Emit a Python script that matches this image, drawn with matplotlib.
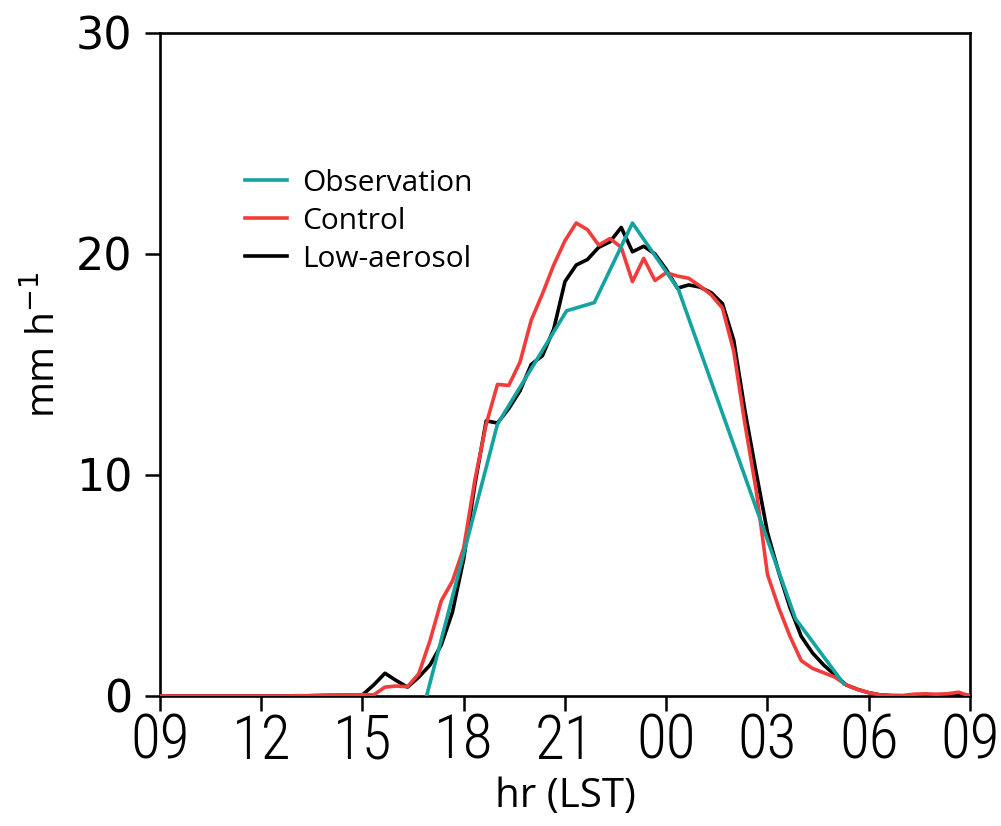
import numpy as np
import matplotlib
matplotlib.use("Agg")
import matplotlib.pyplot as plt

# hours since 09 LST, model output every 20 min
control = [0.0, 0.0, 0.0, 0.0, 0.0, 0.0, 0.0, 0.0, 0.0, 0.0, 0.0, 0.0,
           0.01, 0.01, 0.02, 0.03, 0.04, 0.05,
           0.06, 0.05, 0.4, 0.45, 0.42, 1.0, 2.5, 4.3, 5.2, 6.7, 9.8, 12.3,
           14.1, 14.05, 15.1, 17.0, 18.2, 19.5, 20.6, 21.4, 21.1, 20.4, 20.7, 20.3,
           18.75, 19.8, 18.8, 19.15, 19.0, 18.9, 18.55, 18.15, 17.55, 15.6, 12.3, 9.3,
           5.5, 4.0, 2.7, 1.6, 1.25, 1.05, 0.85, 0.5, 0.3, 0.15, 0.05, 0.02,
           0.02, 0.08, 0.1, 0.08, 0.1, 0.17, 0.0]
low_aerosol = [0.0, 0.0, 0.0, 0.0, 0.0, 0.0, 0.0, 0.0, 0.0, 0.0, 0.0, 0.0,
               0.01, 0.01, 0.02, 0.03, 0.03, 0.04,
               0.05, 0.5, 1.03, 0.7, 0.4, 0.85, 1.4, 2.3, 3.8, 6.2, 9.6, 12.45,
               12.35, 13.0, 13.8, 15.0, 15.4, 16.6, 18.75, 19.5, 19.75, 20.3, 20.55, 21.2,
               20.1, 20.35, 20.0, 19.3, 18.45, 18.6, 18.5, 18.25, 17.75, 16.1, 12.9, 10.1,
               7.4, 5.6, 4.0, 2.7, 1.95, 1.4, 0.95, 0.5, 0.3, 0.15, 0.05, 0.02,
               0.01, 0.02, 0.03, 0.03, 0.05, 0.05, 0.02]
model_hours = np.arange(len(control)) / 3.0

obs_hours = [7.9, 10.0, 12.05, 12.87, 14.0, 15.36, 18.83, 20.25]
obs_values = [0.0, 12.3, 17.43, 17.8, 21.4, 18.4, 3.5, 0.57]

tick_hours = [0, 3, 6, 9, 12, 15, 18, 21, 24]
tick_labels = ['09', '12', '15', '18', '21', '00', '03', '06', '09']

narrow = ['Liberation Sans Narrow', 'DejaVu Sans Condensed', 'Roboto Condensed', 'Open Sans Condensed']

fig = plt.figure(figsize=(10.01, 8.26), dpi=100)
ax = fig.add_axes([0.1598, 0.1574, 0.8092, 0.8027])

ax.plot(model_hours, low_aerosol, color='black', lw=2.6, label='Low-aerosol', zorder=2)
ax.plot(model_hours, control, color='#F23C3C', lw=2.6, label='Control', zorder=3)
ax.plot(obs_hours, obs_values, color='#14A39F', lw=2.6, label='Observation', zorder=4)

ax.set_xlim(0, 24)
ax.set_ylim(0, 30)
ax.set_xticks(tick_hours)
ax.set_xticklabels(tick_labels, family=narrow + ['DejaVu Sans'], fontsize=44,
                   fontstretch='condensed', fontweight='light')
ax.set_yticks([0, 10, 20, 30])
ax.set_yticklabels(['0', '10', '20', '30'], family='DejaVu Sans', fontsize=32)
ax.tick_params(axis='both', direction='out', length=11, width=1.8)
ax.tick_params(axis='x', pad=1)
ax.tick_params(axis='y', pad=9)
for s in ax.spines.values():
    s.set_linewidth(1.9)

ax.set_xlabel('hr (LST)', family='Open Sans', fontsize=29)
ax.set_ylabel('mm h$^{-1}$', family='Open Sans', fontsize=28)
ax.xaxis.set_label_coords(0.5, -0.122)
ax.yaxis.set_label_coords(-0.12, 0.53)

h, l = ax.get_legend_handles_labels()
order = [2, 1, 0]
ax.legend([h[i] for i in order], [l[i] for i in order], loc='upper left',
          bbox_to_anchor=(0.105, 0.795), frameon=False, prop={'family': 'Open Sans', 'size': 21.5},
          handlelength=1.4, handletextpad=0.5, labelspacing=0.3, borderpad=0, borderaxespad=0)

fig.savefig('out.png', dpi=100)
